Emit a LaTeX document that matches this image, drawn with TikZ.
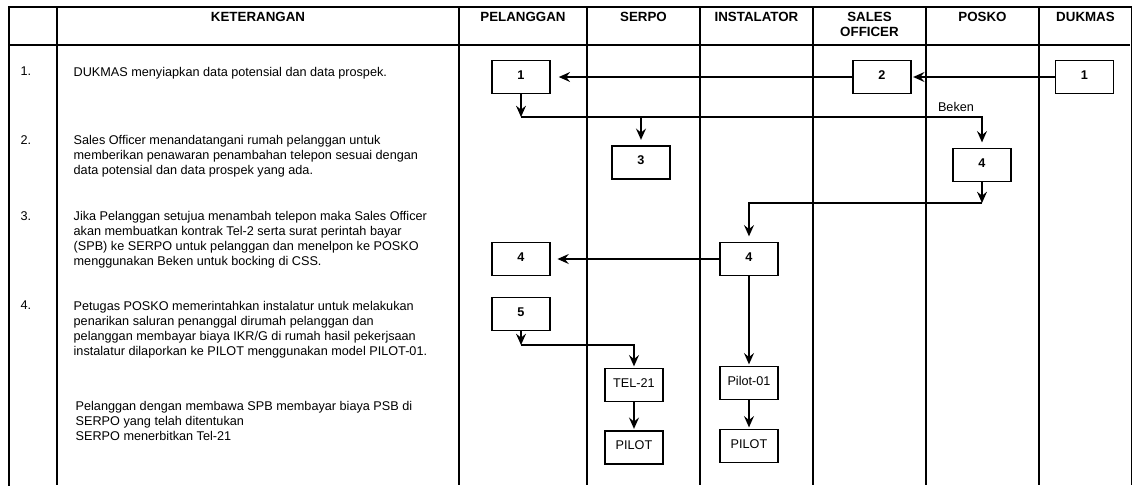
\documentclass[tikz,border=0pt]{standalone}
\usepackage{fontspec}
\setmainfont{Liberation Sans}
\usetikzlibrary{positioning}
\usetikzlibrary{arrows.meta}

\begin{document}
\begin{tikzpicture}[
        x = 0.75pt, y = -0.75pt, % one unit per pixel, y downwards
        > = {Stealth[length=8.5pt,width=7.5pt,inset=3pt]}, % arrow head style
        shorten > = 1pt, % don't touch arrow head to node
        line width = 1pt, % line style
        kotak/.style = {draw, line width=1.2pt, minimum width=43.5pt, minimum height=24.75pt,
                        inner sep=0pt, text height=7pt, text depth=4pt,
                        font=\fontsize{9.5}{11.25}\selectfont},
        nomor/.style = {kotak, font=\fontsize{9.5}{11.25}\selectfont\bfseries},
        judul/.style = {font=\fontsize{10}{11.25}\selectfont\bfseries, align=center,
                        anchor=north, inner sep=0pt},
        ket/.style = {font=\fontsize{9.5}{11.25}\selectfont, align=left,
                      anchor=north west, inner sep=0pt},
        garis/.style = {line width=1.4pt}
        ]

  \useasboundingbox (0,0) rectangle (1133,486);

  % table
  \draw[garis] (9,486) -- (9,7) -- (1131.5,7) -- (1131.5,486);
  \draw[garis] (9,45) -- (1131.5,45);
  \foreach \x in {57,459,587,700,813,926,1039}
    \draw[garis] (\x,7) -- (\x,486);

  \node[judul] (hket) at (258,12) {KETERANGAN};
  \node[judul] (hpel) at (523,12) {PELANGGAN};
  \node[judul] (hser) at (643.5,12) {SERPO};
  \node[judul] (hins) at (756.5,12) {INSTALATOR};
  \node[judul] (hsal) at (869.5,12) {SALES\\OFFICER};
  \node[judul] (hpos) at (982.5,12) {POSKO};
  \node[judul] (hduk) at (1085.5,12) {DUKMAS};

  % keterangan
  \node[ket] (n1) at (20,66.5) {1.};
  \node[ket] (n2) at (20,134.5) {2.};
  \node[ket] (n3) at (20,210.5) {3.};
  \node[ket] (n4) at (20,300.5) {4.};

  \node[ket] (k1) at (73,66.5) {DUKMAS menyiapkan data potensial dan data prospek.};
  \node[ket] (k2) at (73,134.5) {Sales Officer menandatangani rumah pelanggan untuk\\
    memberikan penawaran penambahan telepon sesuai dengan\\
    data potensial dan data prospek yang ada.};
  \node[ket] (k3) at (73,210.5) {Jika Pelanggan setujua menambah telepon maka Sales Officer\\
    akan membuatkan kontrak Tel-2 serta surat perintah bayar\\
    (SPB) ke SERPO untuk pelanggan dan menelpon ke POSKO\\
    menggunakan Beken untuk bocking di CSS.};
  \node[ket] (k4) at (73,300.5) {Petugas POSKO memerintahkan instalatur untuk melakukan\\
    penarikan saluran penanggal dirumah pelanggan dan\\
    pelanggan membayar biaya IKR/G di rumah hasil pekerjsaan\\
    instalatur dilaporkan ke PILOT menggunakan model PILOT-01.};
  \node[ket] (k5) at (75,400.5) {Pelanggan dengan membawa SPB membayar biaya PSB di\\
    SERPO yang telah ditentukan\\
    SERPO menerbitkan Tel-21};

  % alur
  \node[nomor] (p1) at (521,77) {1};
  \node[nomor] (so2) at (882,77) {2};
  \node[nomor] (dk1) at (1084.5,77) {1};
  \node[nomor] (s3) at (641,162.5) {3};
  \node[nomor] (pk4) at (982,165) {4};
  \node[nomor] (p4) at (521,259) {4};
  \node[nomor] (in4) at (749,259) {4};
  \node[nomor] (p5) at (521,314) {5};
  \node[kotak] (tel) at (634,385) {TEL-21};
  \node[kotak] (pl1) at (634,447.5) {PILOT};
  \node[kotak] (pi01) at (749,383) {Pilot-01};
  \node[kotak] (pl2) at (749,446) {PILOT};

  \coordinate (c1) at (521,117);
  \coordinate (c2) at (982,203);
  \coordinate (c3) at (521,345);

  \node[font=\fontsize{9.5}{11.25}\selectfont, inner sep=0pt] (beken) at (956,107) {Beken};

  \draw[->] (dk1) -- (so2);
  \draw[->, shorten >=6pt] (so2) -- (p1);
  \draw[->, shorten >=0pt] (p1) -- (c1);
  \draw[->, shorten >=4pt] (c1) -| (pk4);
  \draw[->, shorten >=4pt] (c1 -| s3) -- (s3);
  \draw[->, shorten >=0pt] (pk4) -- (c2);
  \draw[->, shorten >=4pt] (c2) -| (in4);
  \draw[->, shorten >=5pt] (in4) -- (p4);
  \draw[->] (in4) -- (pi01);
  \draw[->] (pi01) -- (pl2);
  \draw[->, shorten >=0pt] (p5) -- (c3);
  \draw[->] (c3) -| (tel);
  \draw[->] (tel) -- (pl1);

\end{tikzpicture}
\end{document}
